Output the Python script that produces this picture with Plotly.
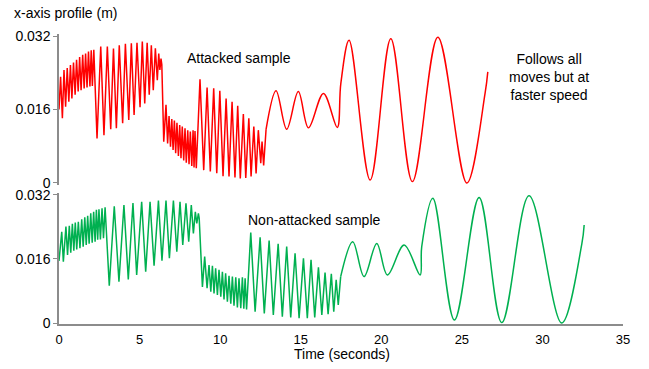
import plotly.graph_objects as go

# ---------------- data ----------------
# Attacked sample (red): zig-zag part (time s, x position m)
red_zig_t = [0.00, 0.10, 0.21, 0.31, 0.41, 0.51, 0.61, 0.71, 0.80, 0.90, 1.00, 1.09, 1.19, 1.28, 1.37,
             1.47, 1.56, 1.65, 1.74, 1.83, 1.92, 2.00, 2.07,
             2.16, 2.36, 2.59, 2.79, 3.00, 3.21, 3.38, 3.56, 3.74, 3.95, 4.12, 4.33, 4.49, 4.66, 4.84,
             5.03, 5.17, 5.32, 5.47, 5.60, 5.73, 5.85, 5.98, 6.10, 6.19, 6.26, 6.33, 6.38,
             6.50,
             6.64, 6.74, 6.83, 6.92, 7.00, 7.08, 7.16, 7.24, 7.32, 7.41, 7.49, 7.57, 7.65, 7.74, 7.82,
             7.90, 7.99, 8.07, 8.15, 8.24, 8.32, 8.38, 8.44, 8.52,
             8.75, 8.98, 9.19, 9.39, 9.60, 9.79, 9.98, 10.18, 10.37, 10.55, 10.74, 10.92, 11.09, 11.25,
             11.44, 11.59, 11.78, 11.92, 12.09, 12.23, 12.37, 12.52, 12.60, 12.70, 12.85]
red_zig_v = [0.0160, 0.0231, 0.0141, 0.0246, 0.0166, 0.0250, 0.0177, 0.0257, 0.0184, 0.0262, 0.0192,
             0.0268, 0.0199, 0.0274, 0.0202, 0.0279, 0.0206, 0.0282, 0.0208, 0.0286, 0.0210, 0.0289, 0.0211,
             0.0290, 0.0097, 0.0297, 0.0104, 0.0297, 0.0117, 0.0293, 0.0119, 0.0300, 0.0130, 0.0303,
             0.0137, 0.0304, 0.0148, 0.0305, 0.0165, 0.0308, 0.0173, 0.0305, 0.0192, 0.0300, 0.0202,
             0.0293, 0.0224, 0.0282, 0.0246, 0.0271, 0.0258,
             0.0090,
             0.0170, 0.0086, 0.0146, 0.0079, 0.0139, 0.0072, 0.0136, 0.0065, 0.0131, 0.0059, 0.0126,
             0.0054, 0.0123, 0.0049, 0.0119, 0.0044, 0.0115, 0.0041, 0.0112, 0.0037, 0.0115, 0.0034,
             0.0113, 0.0032,
             0.0226, 0.0028, 0.0208, 0.0025, 0.0206, 0.0021, 0.0201, 0.0015, 0.0184, 0.0014, 0.0177,
             0.0012, 0.0168, 0.0010, 0.0150, 0.0011, 0.0141, 0.0014, 0.0123, 0.0021, 0.0115, 0.0043,
             0.0090, 0.0038, 0.0117]
# Attacked sample (red): smooth wave part
red_wave_t = [12.85, 13.47, 14.13, 14.85, 15.48, 16.41, 17.27, 17.49, 18.00, 19.31, 20.59, 21.93,
              23.51, 25.31, 26.44, 26.61]
red_wave_v = [0.0117, 0.0201, 0.0117, 0.0199, 0.0120, 0.0195, 0.0121, 0.0217, 0.0311, 0.00065,
              0.0314, 0.0003, 0.0317, 0.0000, 0.0195, 0.0242]

# Non-attacked sample (green): zig-zag part
green_zig_t = [0.00, 0.17, 0.27, 0.43, 0.53, 0.64, 0.73, 0.83, 0.92, 1.01, 1.10, 1.20, 1.30, 1.41, 1.50,
               1.60, 1.69, 1.78, 1.87, 1.97, 2.06, 2.15, 2.24, 2.32, 2.40, 2.48, 2.57, 2.67, 2.76, 2.86,
               3.12, 3.43, 3.72, 4.03, 4.30, 4.59, 4.82, 5.13, 5.38, 5.65, 5.90, 6.17, 6.39, 6.64, 6.85,
               7.10, 7.31, 7.51, 7.68, 7.88, 8.05, 8.21, 8.34, 8.46, 8.55, 8.65, 8.70,
               8.90,
               9.04, 9.19, 9.31, 9.42, 9.52, 9.62, 9.72, 9.83, 9.93, 10.04, 10.14, 10.24, 10.34, 10.45,
               10.55, 10.66, 10.76, 10.86, 10.97, 11.07, 11.17, 11.28, 11.38, 11.47, 11.55, 11.64,
               11.90, 12.17, 12.48, 12.74, 13.04, 13.30, 13.60, 13.86, 14.13, 14.38, 14.65, 14.90, 15.17,
               15.41, 15.64, 15.87, 16.10, 16.31, 16.51, 16.70, 16.90, 17.05, 17.20, 17.33, 17.48]
green_zig_v = [0.0155, 0.0228, 0.0153, 0.0241, 0.0170, 0.0243, 0.0176, 0.0248, 0.0181, 0.0251, 0.0184,
               0.0253, 0.0187, 0.0259, 0.0191, 0.0264, 0.0195, 0.0268, 0.0198, 0.0274, 0.0201, 0.0278,
               0.0203, 0.0283, 0.0208, 0.0284, 0.0209, 0.0287, 0.0212, 0.0289,
               0.0093, 0.0292, 0.0103, 0.0295, 0.0109, 0.0300, 0.0120, 0.0303, 0.0128, 0.0303, 0.0143,
               0.0306, 0.0156, 0.0306, 0.0162, 0.0306, 0.0178, 0.0303, 0.0195, 0.0299, 0.0203, 0.0295,
               0.0224, 0.0278, 0.0249, 0.0274, 0.0262,
               0.0090,
               0.0166, 0.0087, 0.0145, 0.0078, 0.0143, 0.0074, 0.0137, 0.0070, 0.0133, 0.0066, 0.0128,
               0.0059, 0.0124, 0.0053, 0.0118, 0.0048, 0.0116, 0.0043, 0.0114, 0.0039, 0.0112, 0.0037,
               0.0114, 0.0036, 0.0112, 0.0034,
               0.0226, 0.0028, 0.0214, 0.0024, 0.0206, 0.0020, 0.0198, 0.0016, 0.0191, 0.0014, 0.0174,
               0.0012, 0.0162, 0.0012, 0.0158, 0.0014, 0.0139, 0.0020, 0.0126, 0.0022, 0.0123, 0.0028,
               0.0108, 0.0045, 0.0116]
# Non-attacked sample (green): smooth wave part
green_wave_t = [17.48, 18.23, 18.93, 19.72, 20.38, 21.42, 22.41, 22.51, 23.20, 24.54, 26.07, 27.48,
                29.17, 31.20, 32.45, 32.59]
green_wave_v = [0.0116, 0.0203, 0.0116, 0.0199, 0.0120, 0.0195, 0.0120, 0.0191, 0.0312, 0.00075,
                0.0314, 0.0001, 0.0318, 0.0000, 0.0199, 0.0245]

x_ticks = [0, 5, 10, 15, 20, 25, 30, 35]
y_ticks = [0, 0.016, 0.032]
y_tick_text = ["0", "0.016", "0.032"]

RED = "#FF0000"
GREEN = "#00B050"
AXIS = "#8C8C8C"
FONT = "Liberation Sans, Arial, sans-serif"

fig = go.Figure()
lw = 1.5
fig.add_trace(go.Scatter(x=red_zig_t, y=red_zig_v, mode="lines", line=dict(color=RED, width=lw),
                         xaxis="x2", yaxis="y2", hoverinfo="skip"))
fig.add_trace(go.Scatter(x=red_wave_t, y=red_wave_v, mode="lines",
                         line=dict(color=RED, width=lw, shape="spline", smoothing=1.0),
                         xaxis="x2", yaxis="y2", hoverinfo="skip"))
fig.add_trace(go.Scatter(x=green_zig_t, y=green_zig_v, mode="lines", line=dict(color=GREEN, width=lw),
                         xaxis="x", yaxis="y", hoverinfo="skip"))
fig.add_trace(go.Scatter(x=green_wave_t, y=green_wave_v, mode="lines",
                         line=dict(color=GREEN, width=lw, shape="spline", smoothing=1.0),
                         xaxis="x", yaxis="y", hoverinfo="skip"))

yax_common = dict(tickmode="array", tickvals=y_ticks, ticktext=y_tick_text, showgrid=False,
                  zeroline=False, showline=True, linecolor=AXIS, linewidth=1.5, ticks="outside",
                  ticklen=4, tickcolor=AXIS, tickwidth=1.2, tickfont=dict(size=14, color="#000000"))

fig.update_layout(
    width=649, height=369,
    margin=dict(l=59, r=26, t=30, b=45),
    paper_bgcolor="white", plot_bgcolor="white",
    showlegend=False,
    font=dict(family=FONT, size=14, color="#000000"),
    xaxis=dict(domain=[0, 1], range=[0, 35], tickmode="array", tickvals=x_ticks,
               showgrid=False, zeroline=False, showline=True, linecolor=AXIS, linewidth=1.5,
               ticks="outside", ticklen=3, tickcolor="rgba(0,0,0,0)",
               tickfont=dict(size=13, color="#000000"), anchor="y"),
    xaxis2=dict(domain=[0, 1], range=[0, 35], matches="x", showticklabels=False, showgrid=False,
                zeroline=False, showline=False, ticks="", anchor="y2"),
    yaxis=dict(domain=[0, 0.4456], range=[-0.00025, 0.0325], anchor="x", **yax_common),
    yaxis2=dict(domain=[0.4718, 0.9874], range=[-0.0005, 0.0325], anchor="x2", **yax_common),
)

def px_x(px):
    return (px - 59) / 564.0

def px_y(py):
    return (324 - py) / 294.0

ann = [
    dict(text="x-axis profile (m)", x=px_x(12), y=px_y(13), xanchor="left"),
    dict(text="Attacked sample", x=px_x(239), y=px_y(58), xanchor="center"),
    dict(text="Follows all<br>moves but at<br>faster speed", x=px_x(549), y=px_y(76.5),
         xanchor="center", align="center"),
    dict(text="Non-attacked sample", x=px_x(314), y=px_y(220), xanchor="center"),
    dict(text="Time (seconds)", x=px_x(342), y=px_y(354), xanchor="center"),
]
for a in ann:
    fig.add_annotation(xref="paper", yref="paper", showarrow=False, yanchor="middle",
                       font=dict(family=FONT, size=14, color="#000000"), **a)

fig.write_html("out.html", config={"displayModeBar": False},
               post_script="document.body.style.margin='0';document.body.style.overflow='hidden';")
